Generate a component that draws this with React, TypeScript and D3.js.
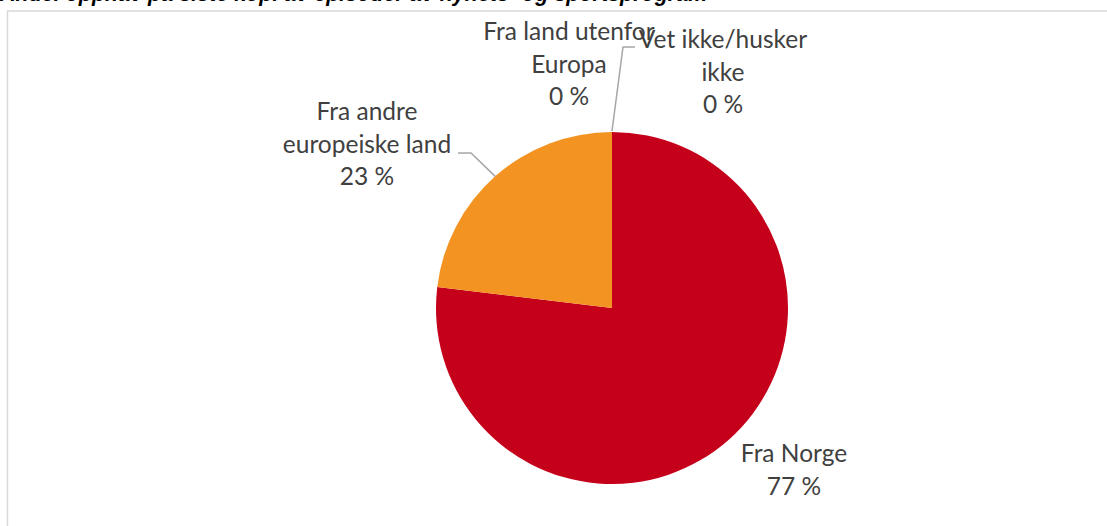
import React from "react";
import * as d3 from "d3";

// slices in Excel order, clockwise from 12 o'clock
const categories = [
  "Fra Norge",
  "Fra andre europeiske land",
  "Fra land utenfor Europa",
  "Vet ikke/husker ikke",
];
const values = [76.9, 23.1, 0, 0];
const colors = ["#c5001a", "#f39321", "#a5a5a5", "#ffc000"];

// label text lines (as wrapped in the original)
const labelLines = [
  ["Fra Norge"],
  ["Fra andre", "europeiske land"],
  ["Fra land utenfor", "Europa"],
  ["Vet ikke/husker", "ikke"],
];

const title = "Andel opphav på siste kopi av episoder av nyhets- og sportsprogram";

const W = 1107;
const H = 526;
const cx = 612;
const cy = 308;
const R = 176;

// label placement: center x, first baseline y
const labelPos = [
  { x: 794, y: 462 },
  { x: 367, y: 120 },
  { x: 569, y: 40 },
  { x: 723, y: 48 },
];
const lineH = 32.5;

const App = () => {
  const pie = d3
    .pie<number>()
    .value((d) => d)
    .sort(null);
  const arcs = pie(values);
  const arc = d3.arc<d3.PieArcDatum<number>>().innerRadius(0).outerRadius(R);

  const edge = (a: d3.PieArcDatum<number>) => {
    const m = (a.startAngle + a.endAngle) / 2;
    return [cx + R * Math.sin(m), cy - R * Math.cos(m)];
  };

  const fmt = (v: number) => `${Math.round(v)} %`;

  // leader lines for the slices that have one
  const e1 = edge(arcs[1]);
  const e2 = edge(arcs[2]);
  const leader1 = d3.line()([
    [458, 153],
    [471, 153],
    [e1[0], e1[1]],
  ]);
  const leader2 = d3.line()([
    [e2[0], e2[1] - 1],
    [623, 47],
    [635, 47],
  ]);

  return (
    <div style={{ position: "absolute", left: 0, top: 0 }}>
      <svg width={W} height={H} style={{ display: "block", background: "#fff" }}>
        <rect
          x={7.5}
          y={11}
          width={1300}
          height={700}
          fill="#fff"
          stroke="#d9d9d9"
          strokeWidth={1.5}
        />
        <text
          x={0}
          y={0.5}
          fontFamily="Liberation Sans, Arial, sans-serif"
          fontWeight="bold"
          fontStyle="italic"
          fontSize={21.5}
          fill="#000"
        >
          {title}
        </text>
        <g>
          {arcs.map((a, i) =>
            a.value > 0 ? (
              <path
                key={categories[i]}
                d={arc(a) || ""}
                transform={`translate(${cx},${cy})`}
                fill={colors[i]}
              />
            ) : null
          )}
        </g>
        <path d={leader1 || ""} fill="none" stroke="#a6a6a6" strokeWidth={1.5} />
        <path d={leader2 || ""} fill="none" stroke="#a6a6a6" strokeWidth={1.5} />
        <g fontFamily="Lato, 'Open Sans', sans-serif" fontSize={24.5} fill="#404040">
          {labelLines.map((lines, i) => (
            <text key={categories[i]} textAnchor="middle">
              {[...lines, fmt(values[i])].map((t, j) => (
                <tspan key={j} x={labelPos[i].x} y={labelPos[i].y + j * lineH}>
                  {t}
                </tspan>
              ))}
            </text>
          ))}
        </g>
      </svg>
    </div>
  );
};

export default App;
